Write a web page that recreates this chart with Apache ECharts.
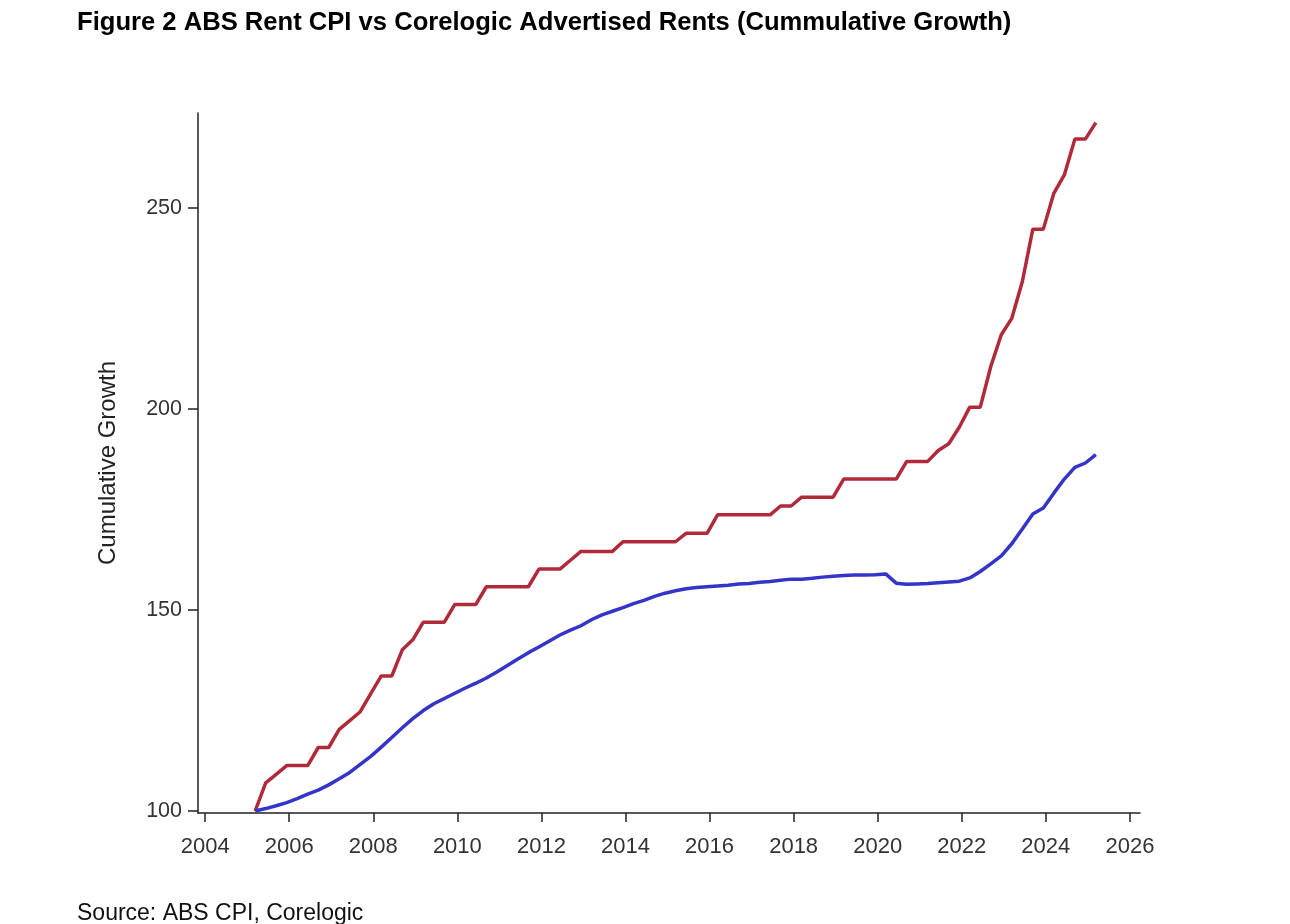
<!DOCTYPE html>
<html>
<head>
<meta charset="utf-8">
<title>ABS Rent CPI vs Corelogic Advertised Rents</title>
<script src="https://cdn.jsdelivr.net/npm/echarts@6.0.0/dist/echarts.min.js"></script>
<style>
	html, body { margin: 0; padding: 0; background: #fff; }
	#chart { width: 1290px; height: 924px; }
</style>
</head>
<body>
<div id="chart"></div>
<script>
// quarterly series, 2005Q1 .. 2025Q1
var firstQuarter = 2005.19;

// Corelogic advertised rents (red)
var corelogic = [
	100.0, 107.0, 109.1, 111.3, 111.3, 111.3, 115.8, 115.8, 120.3, 122.5,
	124.7, 129.2, 133.6, 133.6, 140.1, 142.6, 147.0, 147.0, 147.0, 151.4,
	151.4, 151.4, 155.8, 155.8, 155.8, 155.8, 155.8, 160.2, 160.2, 160.2,
	162.4, 164.6, 164.6, 164.6, 164.6, 167.0, 167.0, 167.0, 167.0, 167.0,
	167.0, 169.1, 169.1, 169.1, 173.7, 173.7, 173.7, 173.7, 173.7, 173.7,
	175.9, 175.9, 178.1, 178.1, 178.1, 178.1, 182.6, 182.6, 182.6, 182.6,
	182.6, 182.6, 187.0, 187.0, 187.0, 189.7, 191.4, 195.5, 200.5, 200.5,
	210.6, 218.5, 222.6, 231.7, 244.8, 244.8, 253.7, 258.3, 267.2, 267.2,
	271.3
];

// ABS rent CPI (blue)
var absRentCpi = [
	100.0, 100.6, 101.3, 102.1, 103.1, 104.2, 105.2, 106.5, 108.0, 109.6,
	111.6, 113.6, 115.9, 118.3, 120.7, 123.0, 125.0, 126.7, 128.0, 129.3,
	130.6, 131.8, 133.1, 134.6, 136.2, 137.8, 139.4, 140.8, 142.3, 143.8,
	145.0, 146.1, 147.6, 148.8, 149.7, 150.6, 151.6, 152.4, 153.4, 154.2,
	154.8, 155.3, 155.6, 155.8, 156.0, 156.2, 156.5, 156.6, 156.9, 157.1,
	157.4, 157.7, 157.7, 157.9, 158.2, 158.4, 158.6, 158.7, 158.7, 158.8,
	159.0, 156.7, 156.4, 156.5, 156.6, 156.8, 157.0, 157.2, 158.0, 159.6,
	161.5, 163.5, 166.5, 170.2, 173.9, 175.4, 179.1, 182.6, 185.5, 186.6,
	188.7
];

var yearTicks = [2004, 2006, 2008, 2010, 2012, 2014, 2016, 2018, 2020, 2022, 2024, 2026];
var valueTicks = [100, 150, 200, 250];

var font = '"Liberation Sans", Arial, Helvetica, sans-serif';
var axisColor = '#222';

function toPairs(values) {
	return values.map(function (v, i) {
		return [firstQuarter + i / 4, v];
	});
}

var myChart = echarts.init(document.getElementById('chart'));

myChart.setOption({
	animation: false,
	backgroundColor: '#fff',
	textStyle: { fontFamily: font },
	title: [
		{
			text: 'Figure 2 ABS Rent CPI vs Corelogic Advertised Rents (Cummulative Growth)',
			left: 72,
			top: 5,
			textStyle: { fontFamily: font, fontSize: 25.6, fontWeight: 'bold', color: '#000' }
		},
		{
			text: 'Source: ABS CPI, Corelogic',
			left: 72,
			top: 897,
			textStyle: { fontFamily: font, fontSize: 23, fontWeight: 'normal', color: '#111' }
		}
	],
	grid: { left: 198, right: 150, top: 113, bottom: 111, containLabel: false },
	xAxis: {
		type: 'value',
		min: 2003.83,
		max: 2026.24,
		splitLine: { show: false },
		axisLine: { show: true, lineStyle: { color: axisColor, width: 1.5 } },
		axisTick: { show: true, length: 9, customValues: yearTicks, lineStyle: { color: axisColor, width: 1.5 } },
		axisLabel: {
			customValues: yearTicks,
			margin: 23,
			fontSize: 22,
			color: '#333',
			fontFamily: font,
			formatter: function (v) { return String(v); } // no thousands separator
		}
	},
	yAxis: {
		type: 'value',
		min: 99.5,
		max: 273.7,
		name: 'Cumulative Growth',
		nameLocation: 'middle',
		nameRotate: 90,
		nameGap: 78,
		nameTextStyle: { fontSize: 24, color: '#222', fontFamily: font },
		splitLine: { show: false },
		axisLine: { show: true, lineStyle: { color: axisColor, width: 1.5 } },
		axisTick: { show: true, length: 10, customValues: valueTicks, lineStyle: { color: axisColor, width: 1.5 } },
		axisLabel: { customValues: valueTicks, margin: 16, fontSize: 21.5, color: '#333', fontFamily: font }
	},
	series: [
		{
			name: 'Corelogic Advertised Rents',
			type: 'line',
			data: toPairs(corelogic),
			showSymbol: false,
			lineStyle: { color: '#b02a3a', width: 3.5 },
			itemStyle: { color: '#b02a3a' }
		},
		{
			name: 'ABS Rent CPI',
			type: 'line',
			data: toPairs(absRentCpi),
			showSymbol: false,
			lineStyle: { color: '#3434c8', width: 3.5 },
			itemStyle: { color: '#3434c8' }
		}
	]
});
</script>
</body>
</html>
